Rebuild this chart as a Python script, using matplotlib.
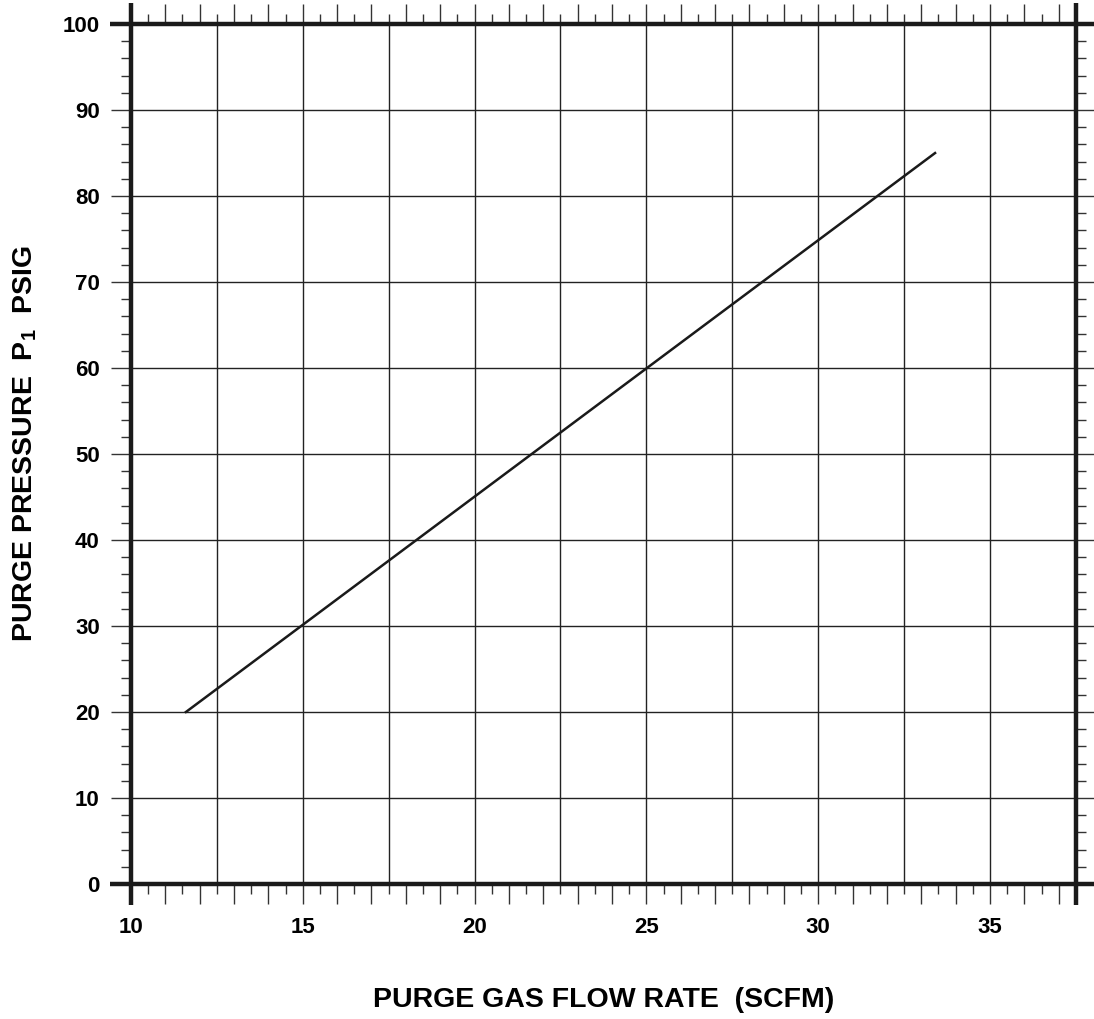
import matplotlib
matplotlib.use("Agg")
import matplotlib.pyplot as plt
import numpy as np
from matplotlib.ticker import MultipleLocator, FuncFormatter

# %% purge curve

flow_scfm = [11.6, 33.4]
pressure_psig = [20, 85]

x_grid = [12.5, 15, 17.5, 20, 22.5, 25, 27.5, 30, 32.5, 35]
y_grid = [10, 20, 30, 40, 50, 60, 70, 80, 90]

plt.rcParams["font.family"] = ["Liberation Sans", "DejaVu Sans"]
plt.rcParams["font.weight"] = "bold"
plt.rcParams["mathtext.fontset"] = "custom"
plt.rcParams["mathtext.rm"] = "Liberation Sans:bold"
plt.rcParams["mathtext.bf"] = "Liberation Sans:bold"

fig = plt.figure(figsize=(10.94, 10.19), dpi=100)
ax = fig.add_axes([0.1197, 0.1325, 0.8638, 0.8439])

ax.set_xlim(10, 37.5)
ax.set_ylim(0, 100)

for gx in x_grid:
    ax.axvline(gx, color="#222222", lw=1.0, zorder=1)
for gy in y_grid:
    ax.axhline(gy, color="#222222", lw=1.0, zorder=1)

ax.plot(flow_scfm, pressure_psig, color="#1a1a1a", lw=1.8, zorder=3)

# ticks
ax.xaxis.set_major_locator(MultipleLocator(1))
ax.xaxis.set_minor_locator(MultipleLocator(0.5))
ax.xaxis.set_major_formatter(
    FuncFormatter(lambda v, p: f"{v:.0f}" if round(v) % 5 == 0 and v < 37 else "")
)
ax.yaxis.set_major_locator(MultipleLocator(10))
ax.yaxis.set_minor_locator(MultipleLocator(2))

ax.tick_params(which="both", direction="out", top=True, right=True,
               color="#333333", width=1.0, labelsize=16)
ax.tick_params(which="major", length=14.5, pad=8)
ax.tick_params(which="minor", length=7.5)
ax.tick_params(axis="x", pad=9)

for sp in ax.spines.values():
    sp.set_visible(False)

# spines drawn longer than the plot box
ex, ey = 0.022, 0.024
kw = dict(transform=ax.transAxes, clip_on=False, color="#1a1a1a", lw=3.2,
          solid_capstyle="butt", zorder=5)
ax.plot([0, 0], [-ey, 1 + ey], **kw)
ax.plot([1, 1], [-ey, 1 + ey], **kw)
ax.plot([-ex, 1 + ex], [0, 0], **kw)
ax.plot([-ex, 1 + ex], [1, 1], **kw)

fig.text(0.5514, 1 - 1000 / 1019, "PURGE GAS FLOW RATE  (SCFM)",
         ha="center", va="center", fontsize=20.5, fontweight="bold")
fig.text(25 / 1094, 1 - 443 / 1019, r"PURGE PRESSURE  P$_{\mathbf{1}}$  PSIG",
         ha="center", va="center", rotation=90, fontsize=20.5, fontweight="bold")

plt.savefig("out.png", dpi=100)
